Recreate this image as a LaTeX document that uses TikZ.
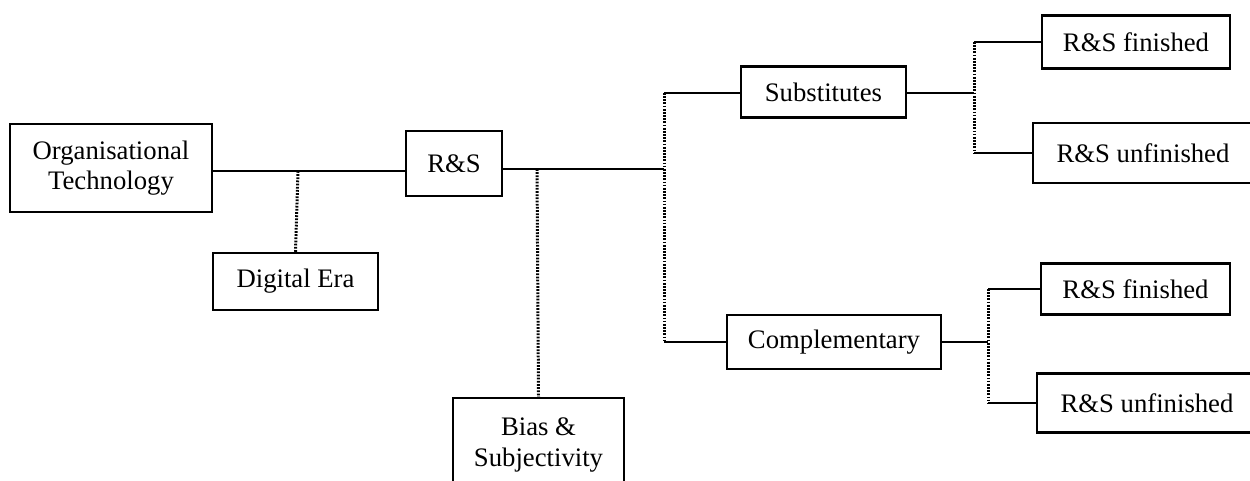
\documentclass[tikz,border=0pt]{standalone}
\usepackage{fontspec}
\setmainfont{Liberation Serif}
\begin{document}
\begin{tikzpicture}[x=0.02cm,y=-0.02cm,line cap=butt,
	box/.style={draw,line width=1.3pt,align=center,inner sep=0pt,font=\fontsize{15.2}{17.5}\selectfont},
	link/.style={line width=1.5pt},
	dot/.style={line width=1.7pt,dash pattern=on 1pt off 0.8pt}]
				\useasboundingbox (0,0) rectangle (1250,480);
				\clip (0,0) rectangle (1250,480);
				% boxes
				\node[box,minimum width=202*0.02cm,minimum height=88*0.02cm] (org) at (111,168) {Organisational\\Technology};
				\node[box,minimum width=165*0.02cm,minimum height=57*0.02cm] (era) at (295.5,281.5) {Digital Era};
				\node[box,minimum width=96*0.02cm,minimum height=65*0.02cm] (rs) at (454,163.5) {R\&S};
				\node[box,minimum width=171*0.02cm,minimum height=94*0.02cm] (bias) at (538.5,445) {Bias \&\\Subjectivity};
				\node[box,minimum width=165*0.02cm,minimum height=51*0.02cm] (subst) at (823.5,92) {Substitutes};
				\node[box,minimum width=214*0.02cm,minimum height=54*0.02cm] (compl) at (834,342) {Complementary};
				\node[box,minimum width=188*0.02cm,minimum height=53*0.02cm] (fin1) at (1136,42) {R\&S finished};
				\node[box,minimum width=220*0.02cm,minimum height=60*0.02cm] (unf1) at (1143,153) {R\&S unfinished};
				\node[box,minimum width=189*0.02cm,minimum height=51*0.02cm] (fin2) at (1135.5,289) {R\&S finished};
				\node[box,minimum width=220*0.02cm,minimum height=59*0.02cm] (unf2) at (1147,403) {R\&S unfinished};
				% junctions
				\coordinate (j1) at (298,171);
				\coordinate (j2) at (537,169);
				\coordinate (j3) at (664,169);
				\coordinate (ta) at (664,93);
				\coordinate (tb) at (664,342);
				\coordinate (sa) at (974,93);
				\coordinate (sb) at (988,342);
				% connectors
				\draw[link] (org.east |- j1) -- (rs.west |- j1);
				\draw[dot] (j1) -- (era.north);
				\draw[link] (rs.east |- j2) -- (j3);
				\draw[dot] (j2) -- (bias.north);
				\draw[dot] (ta) -- (tb);
				\draw[link] (ta) -- (subst.west |- ta) (tb) -- (compl.west);
				\draw[link] (subst.east |- sa) -- (sa) (compl.east) -- (sb);
				\draw[dot] (sa |- fin1) -- (sa |- unf1);
				\draw[dot] (sb |- fin2) -- (sb |- unf2);
				\draw[link] (sa |- fin1) -- (fin1.west) (sa |- unf1) -- (unf1.west);
				\draw[link] (sb |- fin2) -- (fin2.west) (sb |- unf2) -- (unf2.west);
			\end{tikzpicture}
\end{document}
